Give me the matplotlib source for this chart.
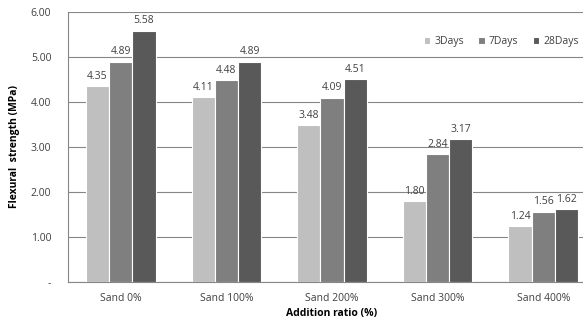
import numpy as np
import matplotlib.pyplot as plt

#%%

categories = ['Sand 0%', 'Sand 100%', 'Sand 200%', 'Sand 300%', 'Sand 400%']
series = ['3Days', '7Days', '28Days']
days3 = [4.35, 4.11, 3.48, 1.80, 1.24]
days7 = [4.89, 4.48, 4.09, 2.84, 1.56]
days28 = [5.58, 4.89, 4.51, 3.17, 1.62]
yticks = [0, 1, 2, 3, 4, 5, 6]
ytick_labels = ['-', '1.00', '2.00', '3.00', '4.00', '5.00', '6.00']

colors = ['#bfbfbf', '#7f7f7f', '#595959']

#%%

plt.rcParams['font.family'] = ['Open Sans', 'DejaVu Sans']

fig = plt.figure(figsize=(5.83, 3.22), dpi=100)
ax = fig.add_axes([68/583, 1 - 282/322, 528/583, 270/322])

x = np.arange(len(categories))
w = 0.22
for i, (vals, name) in enumerate(zip([days3, days7, days28], series)):
    pos = x + (i - 1) * w
    bars = ax.bar(pos, vals, width=w, color=colors[i], edgecolor='white',
                  linewidth=0.8, label=name, zorder=3)
    for b, v in zip(bars, vals):
        ax.text(b.get_x() + b.get_width()/2, v + 0.1, f'{v:.2f}',
                ha='center', va='bottom', fontsize=7.5, color='#404040')

ax.set_xlim(-0.5, len(categories) - 0.5)
ax.set_ylim(0, 6)
ax.set_yticks(yticks)
ax.set_yticklabels(ytick_labels)
ax.set_xticks(x)
ax.set_xticklabels(categories)
ax.tick_params(length=0, labelsize=7.5, colors='#404040', pad=8)
ax.tick_params(axis='y', pad=12)
ax.grid(axis='y', color='#868686', linewidth=0.8, zorder=0)

for s in ['top', 'right']:
    ax.spines[s].set_visible(False)
for s in ['left', 'bottom']:
    ax.spines[s].set_color('#868686')
    ax.spines[s].set_linewidth(0.8)

ax.set_xlabel('Addition ratio (%)', fontsize=7.5, fontweight='bold', labelpad=3)
ax.set_ylabel('Flexural  strength (MPa)', fontsize=7.5, fontweight='bold', labelpad=8)

ax.legend(loc='upper right', bbox_to_anchor=(0.985, 0.945), ncol=3, frameon=False,
          fontsize=7.5, handlelength=0.6, handleheight=0.6, handletextpad=0.4,
          columnspacing=1.4, labelcolor='#404040')

fig.savefig('out.png', dpi=100)
